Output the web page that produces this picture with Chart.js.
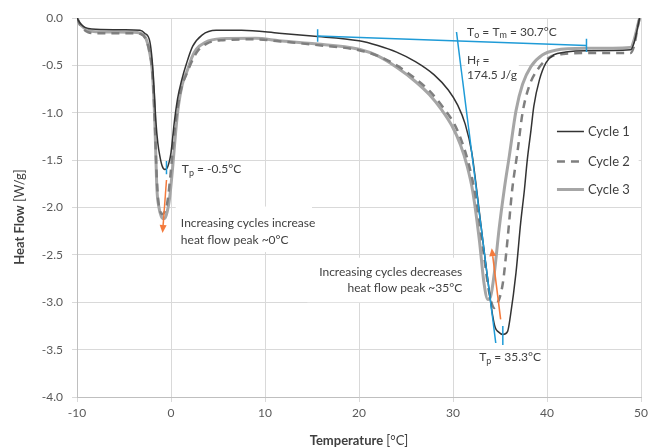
<!DOCTYPE html>
<html lang="en">
<head>
<meta charset="UTF-8">
<title>DSC Heat Flow</title>
<script src="https://cdn.jsdelivr.net/npm/chart.js"></script>
<style>
  html, body { margin: 0; padding: 0; background: #fff; }
</style>
</head>
<body>
<canvas id="dsc-chart" width="652" height="448"></canvas>
<script>
// ---- data (temperature °C, heat flow W/g) ----
const tempTicks = [-10, 0, 10, 20, 30, 40, 50];
const heatTicks = [0, -0.5, -1, -1.5, -2, -2.5, -3, -3.5, -4];
const seriesNames = ['Cycle 1', 'Cycle 2', 'Cycle 3'];

const cycle1 = [[-10,0],[-9.7,-0.05],[-9.3,-0.09],[-8.8,-0.11],[-8,-0.12],[-5,-0.125],[-3.3,-0.13],
  [-2.8,-0.16],[-2.25,-0.25],[-2.0,-0.45],[-1.8,-0.75],[-1.6,-1.1],[-1.4,-1.32],[-1.2,-1.45],
  [-0.95,-1.56],[-0.65,-1.6],[-0.35,-1.57],[0.0,-1.42],[0.35,-1.1],[0.7,-0.85],[1.15,-0.65],
  [1.65,-0.48],[2.3,-0.3],[3.3,-0.18],[4.8,-0.13],[7.5,-0.13],[11.5,-0.16],[15,-0.19],[20,-0.24],
  [22,-0.29],[24,-0.36],[26,-0.46],[28,-0.6],[29.5,-0.76],[30.5,-0.92],[31.3,-1.12],
  [32.0,-1.42],[32.6,-1.88],[33.2,-2.37],[33.8,-2.84],[34.2,-3.13],[34.5,-3.27],
  [34.8,-3.31],[35.3,-3.34],[35.8,-3.31],[36.1,-3.15],[36.7,-2.69],[37.2,-2.16],[37.6,-1.81],
  [37.9,-1.5],[38.3,-1.18],[38.6,-0.93],[39.2,-0.65],[39.9,-0.47],[40.7,-0.39],[42.0,-0.36],
  [44.1,-0.345],[48.9,-0.335],[49.3,-0.25],[49.6,-0.12],[49.85,0]];

const cycle2 = [[-10,0],[-9.7,-0.07],[-9.3,-0.12],[-8.8,-0.15],[-8,-0.16],[-4,-0.16],[-3.2,-0.17],
  [-2.7,-0.22],[-2.3,-0.35],[-2.0,-0.55],[-1.85,-0.8],[-1.7,-1.15],[-1.55,-1.6],[-1.4,-1.88],
  [-1.2,-2.02],[-0.95,-2.07],[-0.65,-2.04],[-0.35,-1.92],[0.0,-1.6],[0.35,-1.22],[0.7,-0.95],
  [1.1,-0.74],[1.7,-0.58],[2.3,-0.44],[2.9,-0.34],[3.8,-0.27],[5.3,-0.235],[9,-0.225],[11.5,-0.245],
  [15,-0.28],[20,-0.34],[22,-0.4],[24,-0.5],[26,-0.64],[27.5,-0.77],[29,-0.95],[30.2,-1.13],
  [31.0,-1.32],[31.7,-1.55],[32.4,-1.88],[33.3,-2.51],[33.8,-2.87],[34.4,-3.06],[34.7,-3.02],
  [35.3,-2.8],[35.8,-2.34],[36.3,-1.81],[36.85,-1.42],[37.4,-1.0],[38.1,-0.72],[39.0,-0.545],
  [40.2,-0.42],[42.0,-0.377],[44,-0.37],[48.9,-0.37],[49.3,-0.28],[49.6,-0.12],[49.85,0]];

const cycle3 = [[-10,0],[-9.7,-0.06],[-9.3,-0.1],[-8.8,-0.13],[-8,-0.145],[-4,-0.15],[-3.3,-0.16],
  [-2.7,-0.21],[-2.3,-0.35],[-2.0,-0.55],[-1.85,-0.8],[-1.72,-1.1],[-1.6,-1.5],[-1.5,-1.8],
  [-1.3,-1.99],[-1.05,-2.09],[-0.8,-2.12],[-0.5,-2.08],[-0.15,-1.9],[0.2,-1.55],[0.5,-1.2],
  [0.8,-0.92],[1.2,-0.7],[1.75,-0.55],[2.2,-0.42],[2.7,-0.33],[3.6,-0.26],[5.3,-0.22],[9,-0.215],
  [11.5,-0.24],[15,-0.27],[20,-0.33],[22,-0.4],[24,-0.52],[26,-0.67],[27.5,-0.81],[28.8,-0.97],
  [29.9,-1.14],[30.8,-1.34],[31.5,-1.56],[32.1,-1.83],[32.8,-2.34],[33.3,-2.8],
  [33.7,-2.97],[34.0,-2.94],[34.4,-2.69],[34.9,-2.23],[35.45,-1.81],[36.0,-1.45],[36.7,-0.98],
  [37.4,-0.7],[38.3,-0.51],[39.5,-0.39],[40.9,-0.34],[44,-0.32],[48.9,-0.31],[49.3,-0.22],
  [49.6,-0.1],[49.85,0]];

// construction lines of the melting analysis
const baseLine = [[15.6,-0.19],[44.2,-0.29]];
const onsetTangent = [[30.37,-0.148],[34.55,-3.43]];
const baseTickLeft = [[15.6,-0.12],[15.6,-0.25]];
const baseTickRight = [[44.2,-0.22],[44.2,-0.36]];
const peakTick1 = [[-0.48,-1.51],[-0.48,-1.65]];
const peakTick2 = [[35.3,-3.25],[35.3,-3.45]];
const arrowCold = [[-0.48,-1.71],[-0.9,-2.27]];
const arrowMelt = [[35.07,-3.18],[34.12,-2.43]];

const FONT = 'Lato, "Open Sans", sans-serif';
const TEXT = '#404040';
const BLUE = '#1f9bd7';
const ORANGE = '#f47a3c';

const pts = a => a.map(p => ({ x: p[0], y: p[1] }));

function helper(data, order) {
  return { data: pts(data), borderColor: BLUE, borderWidth: 1.5, pointRadius: 0, tension: 0, order: order };
}

// text placed in data units, boxes hide grid lines behind labels
const noteBoxes = [
  [0.5, 15.0, -1.99, -2.47],
  [14.5, 31.95, -2.53, -3.0],
  [31.3, 37.0, -0.31, -0.69]
];
const notes = [
  { x: 1.15, y: -1.6, align: 'left', parts: [['T'], ['p', 'sub'], [' = -0.5°C']] },
  { x: 1.05, y: -2.17, align: 'left', parts: [['Increasing cycles increase']] },
  { x: 1.05, y: -2.34, align: 'left', parts: [['heat flow peak ~0°C']] },
  { x: 30.98, y: -2.68, align: 'right', parts: [['Increasing cycles decreases']] },
  { x: 30.98, y: -2.85, align: 'right', parts: [['heat flow peak ~35°C']] },
  { x: 32.78, y: -3.58, align: 'left', parts: [['T'], ['p', 'sub'], [' = 35.3°C']] },
  { x: 31.5, y: -0.145, align: 'left', parts: [['T'], ['o', 'sub'], [' = T'], ['m', 'sub'], [' = 30.7°C']] },
  { x: 31.5, y: -0.44, align: 'left', parts: [['H'], ['f', 'sub'], [' =']] },
  { x: 31.5, y: -0.6, align: 'left', parts: [['174.5 J/g']] }
];

function drawRich(ctx, parts, x, y, size, align) {
  const fontFor = s => (s === 'b' ? 'bold ' : '') + (s === 'sub' ? Math.round(size * 0.72) : size) + 'px ' + FONT;
  let total = 0;
  parts.forEach(p => { ctx.font = fontFor(p[1]); total += ctx.measureText(p[0]).width; });
  let cx = align === 'right' ? x - total : align === 'center' ? x - total / 2 : x;
  ctx.textAlign = 'left';
  ctx.textBaseline = 'middle';
  parts.forEach(p => {
    ctx.font = fontFor(p[1]);
    ctx.fillText(p[0], cx, p[1] === 'sub' ? y + size * 0.3 : y);
    cx += ctx.measureText(p[0]).width;
  });
}

function arrow(ctx, xs, ys, a) {
  const x1 = xs.getPixelForValue(a[0][0]), y1 = ys.getPixelForValue(a[0][1]);
  const x2 = xs.getPixelForValue(a[1][0]), y2 = ys.getPixelForValue(a[1][1]);
  const ang = Math.atan2(y2 - y1, x2 - x1);
  const len = 8, half = 3.5;
  ctx.strokeStyle = ORANGE;
  ctx.fillStyle = ORANGE;
  ctx.lineWidth = 1.5;
  ctx.beginPath();
  ctx.moveTo(x1, y1);
  ctx.lineTo(x2 - Math.cos(ang) * len, y2 - Math.sin(ang) * len);
  ctx.stroke();
  ctx.beginPath();
  ctx.moveTo(x2, y2);
  ctx.lineTo(x2 - Math.cos(ang) * len - Math.sin(ang) * half, y2 - Math.sin(ang) * len + Math.cos(ang) * half);
  ctx.lineTo(x2 - Math.cos(ang) * len + Math.sin(ang) * half, y2 - Math.sin(ang) * len - Math.cos(ang) * half);
  ctx.closePath();
  ctx.fill();
}

const annotate = {
  id: 'annotate',
  beforeDatasetsDraw(chart) {
    const { ctx, scales: { x, y } } = chart;
    ctx.save();
    ctx.fillStyle = '#fff';
    noteBoxes.forEach(b => {
      const l = x.getPixelForValue(b[0]), r = x.getPixelForValue(b[1]);
      const t = y.getPixelForValue(b[2]), btm = y.getPixelForValue(b[3]);
      ctx.fillRect(l, t, r - l, btm - t);
    });
    // legend box
    const l = x.getPixelForValue(40.2), r = x.getPixelForValue(49.75);
    const t = y.getPixelForValue(-1.03), btm = y.getPixelForValue(-1.97);
    ctx.fillRect(l, t, r - l, btm - t);
    ctx.restore();
  },
  afterDatasetsDraw(chart) {
    const { ctx, scales: { x, y } } = chart;
    ctx.save();
    arrow(ctx, x, y, arrowCold);
    arrow(ctx, x, y, arrowMelt);
    ctx.fillStyle = TEXT;
    notes.forEach(n => drawRich(ctx, n.parts, x.getPixelForValue(n.x), y.getPixelForValue(n.y), 12, n.align));

    // legend
    const styles = chart.data.datasets.slice(0, 3);
    const rows = [-1.19, -1.505, -1.81];
    const lx0 = x.getPixelForValue(41.06), lx1 = x.getPixelForValue(43.93), tx = x.getPixelForValue(44.35);
    styles.forEach((ds, i) => {
      const py = Math.round(y.getPixelForValue(rows[i])) + 0.5;
      ctx.strokeStyle = ds.borderColor;
      ctx.lineWidth = ds.borderWidth;
      ctx.setLineDash(ds.borderDash || []);
      ctx.beginPath();
      ctx.moveTo(lx0, py);
      ctx.lineTo(lx1, py);
      ctx.stroke();
      ctx.setLineDash([]);
      ctx.fillStyle = TEXT;
      drawRich(ctx, [[seriesNames[i]]], tx, py, 13, 'left');
    });

    // axis titles
    ctx.fillStyle = TEXT;
    ctx.translate(20, 217);
    ctx.rotate(-Math.PI / 2);
    drawRich(ctx, [['Heat Flow ', 'b'], ['[W/g]']], 0, 0, 13, 'center');
    ctx.setTransform(1, 0, 0, 1, 0, 0);
    drawRich(ctx, [['Temperature ', 'b'], ['[°C]']], (x.left + x.right) / 2, 441, 13, 'center');
    ctx.restore();
  }
};

const gridColor = '#d9d9d9';

new Chart(document.getElementById('dsc-chart').getContext('2d'), {
  type: 'line',
  data: {
    datasets: [
      { label: seriesNames[0], data: pts(cycle1), borderColor: '#333333', borderWidth: 1.5, pointRadius: 0, cubicInterpolationMode: 'monotone', order: 1 },
      { label: seriesNames[1], data: pts(cycle2), borderColor: '#7f7f7f', borderWidth: 2.5, borderDash: [8, 6], pointRadius: 0, cubicInterpolationMode: 'monotone', order: 2 },
      { label: seriesNames[2], data: pts(cycle3), borderColor: '#a6a6a6', borderWidth: 3, pointRadius: 0, cubicInterpolationMode: 'monotone', order: 3 },
      helper(baseLine, 0), helper(onsetTangent, 0), helper(baseTickLeft, 0),
      helper(baseTickRight, 0), helper(peakTick1, 0), helper(peakTick2, 0)
    ]
  },
  options: {
    responsive: false,
    animation: false,
    devicePixelRatio: 1,
    layout: { padding: { top: 18, right: 11, left: 0, bottom: 0 } },
    plugins: { legend: { display: false }, tooltip: { enabled: false } },
    scales: {
      x: {
        type: 'linear', min: tempTicks[0], max: tempTicks[tempTicks.length - 1],
        afterBuildTicks: s => { s.ticks = tempTicks.map(v => ({ value: v })); },
        afterFit: s => { s.height = 51; },
        ticks: { color: '#595959', font: { family: FONT, size: 12 }, padding: 4 },
        grid: { color: gridColor, tickLength: 5 },
        border: { color: '#bfbfbf' }
      },
      y: {
        type: 'linear', min: heatTicks[heatTicks.length - 1], max: heatTicks[0],
        afterBuildTicks: s => { s.ticks = heatTicks.slice().reverse().map(v => ({ value: v })); },
        afterFit: s => { s.width = 77; },
        ticks: { color: '#595959', font: { family: FONT, size: 12 }, padding: 9, callback: v => v.toFixed(1) },
        grid: { color: gridColor, tickLength: 5 },
        border: { color: '#bfbfbf' }
      }
    }
  },
  plugins: [annotate]
});
</script>
</body>
</html>
